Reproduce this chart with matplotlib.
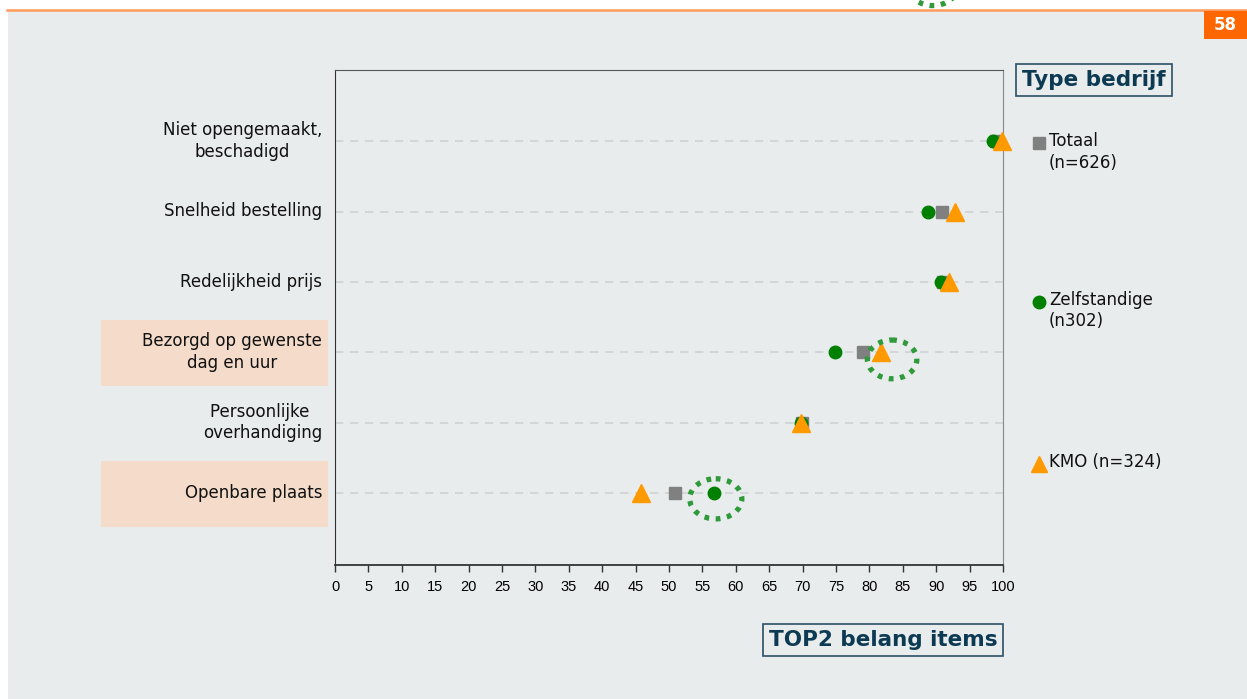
import numpy as np
import matplotlib
matplotlib.use('Agg')
from matplotlib import pyplot as plt
from matplotlib.patches import Ellipse, Rectangle
from matplotlib.lines import Line2D

# data
items = ['Niet opengemaakt,\nbeschadigd', 'Snelheid bestelling', 'Redelijkheid prijs',
         'Bezorgd op gewenste\ndag en uur', 'Persoonlijke \noverhandiging', 'Openbare plaats']
totaal = [99.0, 90.9, 91.0, 79.0, 69.9, 50.9]
zelfstandige = [98.5, 88.8, 90.7, 74.9, 69.8, 56.7]
kmo = [99.8, 92.8, 91.9, 81.7, 69.8, 45.8]
highlight = [False, False, False, True, False, True]
xticks = list(range(0, 101, 5))

W, H = 1247, 699
bg = '#e9ecec'
navy = '#0d3a53'

fig = plt.figure(figsize=(W / 100, H / 100), dpi=100)
fig.patch.set_facecolor('white')

def fx(px):
	return px / W

def fy(py):
	return 1 - py / H

# slide background, top rule and page number
fig.add_artist(Rectangle((fx(8), 0), 1 - fx(8), fy(11), transform=fig.transFigure,
	facecolor=bg, edgecolor='none', zorder=0))
fig.add_artist(Line2D([fx(7), 1], [fy(10), fy(10)], transform=fig.transFigure,
	color='#ff9a5c', lw=1.8, zorder=1))
fig.add_artist(Rectangle((fx(1204), fy(39)), fx(43), fy(11) - fy(39), transform=fig.transFigure,
	facecolor='#ff6600', edgecolor='none', zorder=1))
fig.text(fx(1225), fy(25), '58', color='white', fontsize=12, fontweight='bold',
	family='DejaVu Sans', ha='center', va='center')

ax = fig.add_axes([fx(335), fy(565), fx(1003 - 335), fy(70) - fy(565)])
ax.set_facecolor(bg)
y = np.arange(len(items))
ax.set_xlim(0, 100)
ax.set_ylim(6.02, -1.01)

for yi in y:
	ax.axhline(yi, color='#cfd2d3', lw=1.2, ls=(0, (5, 4)), zorder=1)

ax.plot(totaal, y, ls='none', marker='s', ms=8, color='#808080', zorder=3, clip_on=False)
ax.plot(zelfstandige, y, ls='none', marker='o', ms=9, color='#008000', zorder=4, clip_on=False)
ax.plot(kmo, y, ls='none', marker='^', ms=13, color='#ff9900', zorder=5, clip_on=False)

# dotted highlight ellipses
for cx, cy, w, h in [(83.4, 3.1, 7.4, 0.55), (57.0, 5.08, 7.8, 0.57), (89.5, -2.2, 7.4, 0.55)]:
	ax.add_patch(Ellipse((cx, cy), w, h, fill=False, edgecolor='#2e9a3a', lw=3.8,
		ls=(0, (0.9, 1.25)), zorder=6, clip_on=False))

ax.set_xticks(xticks)
ax.set_xticklabels([str(t) for t in xticks], family='Liberation Sans', fontsize=10.5)
ax.set_yticks([])
ax.tick_params(axis='x', length=5, width=1, color='#333333', pad=6)
ax.spines['bottom'].set_color('#333333')
ax.spines['bottom'].set_linewidth(1.3)
ax.spines['left'].set_color('#333333')
ax.spines['top'].set_color('#555555')
ax.spines['right'].set_color('#888888')

# row labels
for yi, lab, hl in zip(y, items, highlight):
	ypx = 141 + yi * 70.4
	if hl:
		fig.add_artist(Rectangle((fx(101), fy(ypx + 34)), fx(227), fy(ypx - 32) - fy(ypx + 34),
			transform=fig.transFigure, facecolor='#f5dcca', edgecolor='none', zorder=1))
	fig.text(fx(322), fy(ypx), lab, ha='right', va='center', multialignment='center',
		fontsize=12, family='DejaVu Sans', color='#111111', linespacing=1.25, zorder=2)

# legend
leg = [('s', '#808080', 8, 143, 'Totaal\n(n=626)'),
	('o', '#008000', 9, 302, 'Zelfstandige\n(n302)'),
	('^', '#ff9900', 11, 464, 'KMO (n=324)')]
for m, c, s, ypx, txt in leg:
	fig.add_artist(Line2D([fx(1039)], [fy(ypx)], transform=fig.transFigure, ls='none',
		marker=m, ms=s, color=c))
	fig.text(fx(1049), fy(ypx - 11), txt, ha='left', va='top', fontsize=12,
		family='DejaVu Sans', color='#111111', linespacing=1.25)

# titled boxes
for txt, xc, yc in [('Type bedrijf', 1094, 80), ('TOP2 belang items', 883, 640)]:
	fig.text(fx(xc), fy(yc), txt, ha='center', va='center', fontsize=15.5, fontweight='bold',
		family='DejaVu Sans', color=navy,
		bbox=dict(boxstyle='square,pad=0.28', facecolor=bg, edgecolor='#2c4f66', lw=1.2))

fig.savefig('out.png', dpi=100, facecolor=fig.get_facecolor())
